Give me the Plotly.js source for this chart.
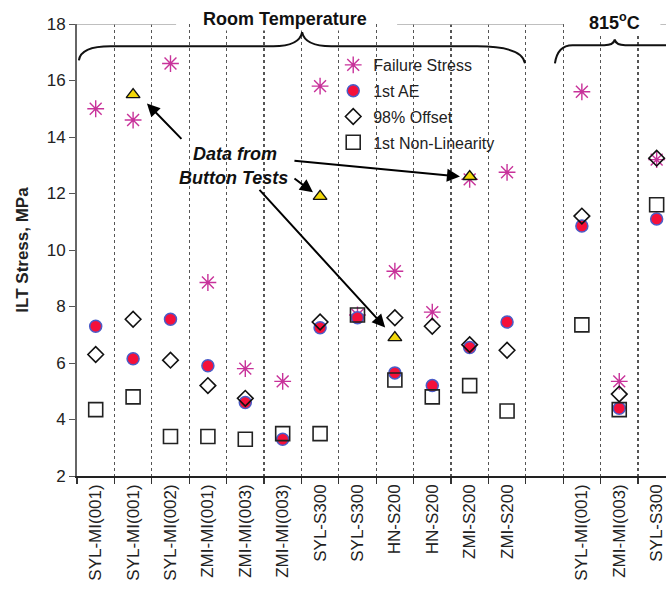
<!DOCTYPE html>
<html>
<head>
<meta charset="utf-8">
<script src="https://cdn.plot.ly/plotly-3.0.1.min.js"></script>
<style>
html,body{margin:0;padding:0;background:#fff;}
#chart{width:666px;height:592px;}
</style>
</head>
<body>
<div id="chart"></div>
<script>
// Specimen categories (blank = gap between Room Temperature and 815°C groups)
const categories = ['SYL-MI(001)','SYL-MI(001)','SYL-MI(002)','ZMI-MI(001)','ZMI-MI(003)','ZMI-MI(003)',
  'SYL-S300','SYL-S300','HN-S200','HN-S200','ZMI-S200','ZMI-S200','',
  'SYL-MI(001)','ZMI-MI(003)','SYL-S300'];
const failureStress = [15.0,14.6,16.6,8.85,5.8,5.35,15.8,7.7,9.25,7.8,12.5,12.75,null,15.6,5.35,13.2];
const firstAE       = [7.3,6.15,7.55,5.9,4.6,3.3,7.25,7.6,5.65,5.2,6.55,7.45,null,10.85,4.4,11.1];
const offset98      = [6.3,7.55,6.1,5.2,4.75,null,7.45,null,7.6,7.3,6.65,6.45,null,11.2,4.9,13.25];
const nonLinearity  = [4.35,4.8,3.4,3.4,3.3,3.5,3.5,7.7,5.4,4.8,5.2,4.3,null,7.35,4.35,11.6];
const buttonTests   = [null,15.5,null,null,null,null,11.9,null,6.9,null,12.6,null,null,null,null,null];
const yTicks = [2,4,6,8,10,12,14,16,18];

const xPos = categories.map((c,i)=>i);
const tickVals = xPos.filter(i=>categories[i] !== '');
const tickText = tickVals.map(i=>categories[i]);

const FONT = 'Liberation Sans, Arial, sans-serif';

const traces = [
  {name:'Failure Stress', x:xPos, y:failureStress, type:'scatter', mode:'markers',
   legendgroup:'a',
   marker:{symbol:'asterisk-open', size:14, color:'#c8329a', line:{color:'#c8329a', width:1.4}}},
  {name:'1st AE', x:xPos, y:firstAE, type:'scatter', mode:'markers', legendgroup:'b',
   marker:{symbol:'circle', size:12, color:'#f5103a', line:{color:'#4a5cc8', width:1.5}}},
  {name:'98% Offset', x:xPos, y:offset98, type:'scatter', mode:'markers', legendgroup:'c',
   marker:{symbol:'diamond-open', size:12, color:'#111', line:{color:'#111', width:1.6}}},
  {name:'1st Non-Linearity', x:xPos, y:nonLinearity, type:'scatter', mode:'markers', legendgroup:'d',
   marker:{symbol:'square-open', size:14, color:'#222', line:{color:'#222', width:1.6}}},
  {name:'Button Tests', x:xPos, y:buttonTests, type:'scatter', mode:'markers', showlegend:false,
   marker:{symbol:'triangle-up', size:12, color:'#f2d80a', line:{color:'#111', width:1.4}}}
];

function arrow(x, y, ax, ay){
  return {x:x, y:y, xref:'x', yref:'y', ax:ax, ay:ay, text:'', showarrow:true,
    arrowhead:2, arrowsize:1.3, arrowwidth:2, arrowcolor:'#000', standoff:0};
}

const layout = {
  width:666, height:592,
  margin:{l:77, r:0, t:24, b:116},
  paper_bgcolor:'#fff', plot_bgcolor:'#fff',
  font:{family:FONT, size:17, color:'#222'},
  showlegend:true,
  legend:{x:0.435, y:0.947, xanchor:'left', yanchor:'top', bgcolor:'rgba(0,0,0,0)',
    font:{family:FONT, size:16, color:'#222'}, tracegroupgap:2, traceorder:'grouped'},
  xaxis:{range:[-0.5,15.25], tickmode:'array', tickvals:tickVals, ticktext:tickText,
    tickangle:-90, ticks:'', showgrid:false, zeroline:false, ticklabeloverflow:'allow',
    showline:true, linecolor:'#222', linewidth:1.5,
    tickfont:{family:FONT, size:17, color:'#222'},
    minor:{tick0:-0.5, dtick:1, ticks:'outside', ticklen:6, tickcolor:'#333', tickwidth:1.2,
      showgrid:true, griddash:'dot', gridcolor:'#555', gridwidth:1.2}},
  yaxis:{range:[2,18], tickmode:'array', tickvals:yTicks, ticks:'outside', ticklen:6,
    tickcolor:'#555', showgrid:false, zeroline:false, showline:true, linecolor:'#666', linewidth:2,
    tickfont:{family:FONT, size:17, color:'#222'},
    title:{text:'<b>ILT Stress, MPa</b>', font:{family:FONT, size:17, color:'#222'}, standoff:14}},
  shapes:[
    {type:'line', xref:'x', yref:'y', x0:-0.5, x1:2.15, y0:18, y1:18, line:{color:'#aaa', width:1.5}},
    {type:'line', xref:'x', yref:'y', x0:8.06, x1:12.5, y0:18, y1:18, line:{color:'#aaa', width:1.5}},
    {type:'line', xref:'x', yref:'y', x0:15.1, x1:15.25, y0:18, y1:18, line:{color:'#aaa', width:1.5}},
    {type:'path', xref:'x', yref:'y', line:{color:'#111', width:2},
     path:'M -0.45,16.71 Q -0.4,17.21 0.4,17.21 L 4.75,17.21 Q 5.45,17.21 5.52,17.71 Q 5.59,17.21 6.3,17.21 L 10.2,17.21 Q 11.4,17.21 11.48,16.61'},
    {type:'path', xref:'x', yref:'y', line:{color:'#111', width:2},
     path:'M 12.28,16.61 Q 12.35,17.25 12.75,17.25 L 13.6,17.25 Q 13.85,17.25 13.88,17.45 Q 13.91,17.25 14.16,17.25 L 15.3,17.25'}
  ],
  annotations:[
    {x:0.353, y:1.011, xref:'paper', yref:'paper', xanchor:'center', yanchor:'middle',
     text:'<b>Room Temperature</b>', showarrow:false, bgcolor:'#fff',
     font:{family:FONT, size:18, color:'#111'}},
    {x:0.913, y:1.006, xref:'paper', yref:'paper', xanchor:'center', yanchor:'middle',
     text:'<b>815<sup>o</sup>C</b>', showarrow:false, bgcolor:'#fff',
     font:{family:FONT, size:18, color:'#111'}},
    {x:3.72, y:13.4, xref:'x', yref:'y', text:'<b><i>Data from</i></b>', showarrow:false,
     font:{family:FONT, size:18, color:'#111'}},
    {x:3.68, y:12.55, xref:'x', yref:'y', text:'<b><i>Button Tests</i></b>', showarrow:false,
     font:{family:FONT, size:18, color:'#111'}},
    arrow(1.37, 15.19, 36, 37),
    arrow(9.74, 12.6, -167, -16),
    arrow(5.81, 12.04, -20, -15),
    arrow(7.74, 7.26, -127, -139)
  ]
};

Plotly.newPlot('chart', traces, layout, {displayModeBar:false, staticPlot:true});
</script>
</body>
</html>
